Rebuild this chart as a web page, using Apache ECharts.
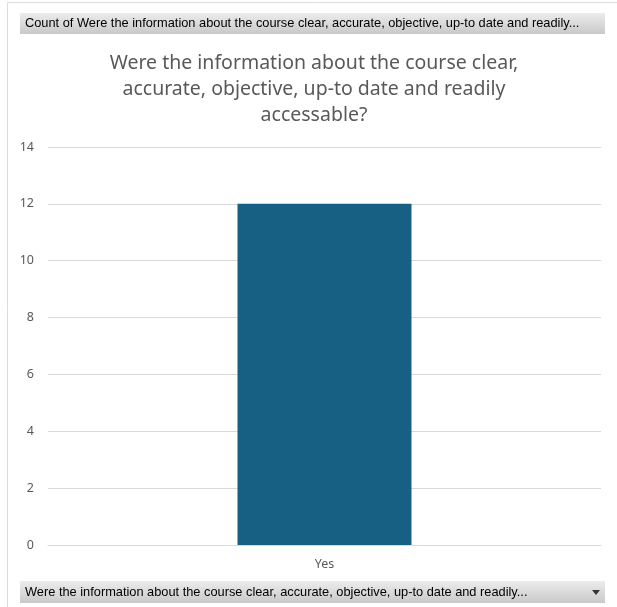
<!DOCTYPE html>
<html>
<head>
<meta charset="utf-8">
<script src="https://cdn.jsdelivr.net/npm/echarts@6/dist/echarts.min.js"></script>
<style>
  html, body { margin: 0; padding: 0; background: #fff; }
  #chart { width: 617px; height: 607px; }
</style>
</head>
<body>
<div id="chart"></div>
<script>
// Answer categories and response counts
const categories = ['Yes'];
const counts = [12];
const yTicks = { min: 0, max: 14, interval: 2 };

const titleLines = [
  'Were the information about the course clear,',
  'accurate, objective, up-to date and readily',
  'accessable?'
];
const headerText = 'Count of Were the information about the course clear, accurate, objective, up-to date and readily...';
const footerText = 'Were the information about the course clear, accurate, objective, up-to date and readily...';

const chart = echarts.init(document.getElementById('chart'), null, { renderer: 'canvas' });

const barFill = {
  type: 'linear', x: 0, y: 0, x2: 0, y2: 1,
  colorStops: [{ offset: 0, color: '#ececec' }, { offset: 1, color: '#c9c9c9' }]
};

chart.setOption({
  backgroundColor: '#ffffff',
  animation: false,
  grid: { left: 48, right: 16, top: 147, bottom: 62, containLabel: false },
  xAxis: {
    type: 'category',
    data: categories,
    axisLine: { show: true, lineStyle: { color: '#d9d9d9', width: 1 } },
    axisTick: { show: false },
    axisLabel: { color: '#595959', fontFamily: 'Noto Sans', fontSize: 12.5, margin: 13 }
  },
  yAxis: {
    type: 'value',
    min: yTicks.min,
    max: yTicks.max,
    interval: yTicks.interval,
    axisLine: { show: false },
    axisTick: { show: false },
    splitLine: { lineStyle: { color: '#d9d9d9', width: 1 } },
    axisLabel: { color: '#595959', fontFamily: 'Noto Sans', fontSize: 12.5, margin: 14 }
  },
  series: [{
    type: 'bar',
    data: counts,
    barWidth: 174,
    itemStyle: { color: '#176083' }
  }],
  graphic: [
    // outer frame
    { type: 'line', shape: { x1: 7.5, y1: 2.5, x2: 617, y2: 2.5 }, style: { stroke: '#dcdcdc', lineWidth: 1 }, silent: true },
    { type: 'line', shape: { x1: 7.5, y1: 2.5, x2: 7.5, y2: 607 }, style: { stroke: '#dcdcdc', lineWidth: 1 }, silent: true },
    // chart title
    {
      type: 'text', x: 314, y: 50, silent: true,
      style: {
        text: titleLines.join('\n'),
        fill: '#595959',
        font: '19.5px "Noto Sans"',
        lineHeight: 26,
        textAlign: 'center',
        textVerticalAlign: 'top'
      }
    },
    // field header button
    { type: 'rect', shape: { x: 20, y: 13, width: 585, height: 21 }, style: { fill: barFill }, silent: true },
    { type: 'text', x: 25, y: 23.5, style: { text: headerText, fill: '#000', font: '12.8px "Liberation Sans"', textVerticalAlign: 'middle' }, silent: true },
    // axis field button
    { type: 'rect', shape: { x: 20, y: 581, width: 585, height: 22 }, style: { fill: barFill }, silent: true },
    { type: 'text', x: 25, y: 592, style: { text: footerText, fill: '#000', font: '12.8px "Liberation Sans"', textVerticalAlign: 'middle' }, silent: true },
    { type: 'polygon', shape: { points: [[592, 590], [600, 590], [596, 595]] }, style: { fill: '#333' }, silent: true }
  ]
});
</script>
</body>
</html>
